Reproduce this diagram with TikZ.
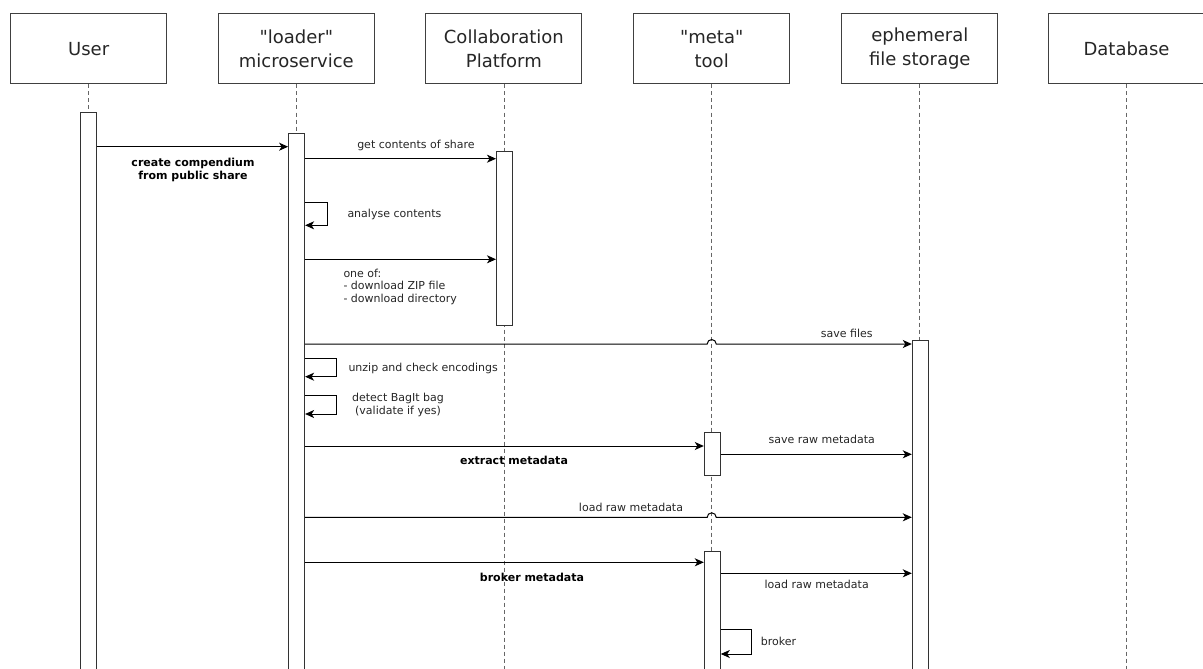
\documentclass[tikz,border=0pt]{standalone}
\usepackage{fontspec}
\setmainfont{DejaVu Sans}[Ligatures=TeXOff]
\usetikzlibrary{arrows.meta}
\begin{document}
\begin{tikzpicture}[x=1pt,y=-1pt,
  head/.style={draw=black!75, line width=1pt, minimum width=156pt, minimum height=70pt, inner sep=0pt, align=center, font=\fontsize{18}{24}\selectfont, text=black!85},
  bar/.style={draw=black!80, fill=white, line width=1pt, minimum width=16pt, inner sep=0pt, anchor=north},
  life/.style={draw=black!60, line width=0.8pt, dash pattern=on 4pt off 3pt},
  msg/.style={draw=black, line width=1pt, -{Stealth[length=9pt,width=8pt,inset=2.5pt]}},
  lbl/.style={inner sep=0pt, font=\fontsize{11}{12.5}\selectfont, text=black!85},
  blbl/.style={inner sep=0pt, font=\fontsize{11}{13}\selectfont\bfseries, text=black},
]
\useasboundingbox (0,0) rectangle (1203,669);
\fill[white] (0,0) rectangle (1203,669);

% participants
\node[head] (user)   at (88.7,49)   {User};
\node[head] (loader) at (296.3,49)  {"loader"\\microservice};
\node[head] (collab) at (503.9,49)  {Collaboration\\Platform};
\node[head] (meta)   at (711.7,49)  {"meta"\\tool};
\node[head] (eph)    at (919.8,49)  {ephemeral\\file storage};
\node[head] (db)     at (1126.5,49) {Database};

% lifelines
\foreach \n in {user,loader,collab,meta,eph,db}
  \draw[life] (\n.south) -- (\n.south |- 0,680);

% activation bars
\node[bar, minimum height=570pt] (ubar) at (88.7,112) {};
\node[bar, minimum height=550pt] (lbar) at (296.6,132.7) {};
\node[bar, minimum height=174pt] (cbar) at (504.5,151) {};
\node[bar, minimum height=43.3pt] (mbar1) at (712.3,432) {};
\node[bar, minimum height=130pt] (mbar2) at (712.3,550.7) {};
\node[bar, minimum height=342pt] (ebar) at (920.3,340) {};

% messages
\draw[msg] (ubar.east |- 0,146.7) -- (lbar.west |- 0,146.7);
\node[blbl, align=center] (l1) at (193,169.5) {create compendium\\from public share};

\draw[msg] (lbar.east |- 0,158.7) -- (cbar.west |- 0,158.7);
\node[lbl] (l2) at (416,145.7) {get contents of share};

\draw[msg] (lbar.east |- 0,202.3) -| (327.3,225.3) -- (lbar.east |- 0,225.3);
\node[lbl, anchor=west] (l3) at (347.3,214) {analyse contents};

\draw[msg] (lbar.east |- 0,259.3) -- (cbar.west |- 0,259.3);
\node[lbl, align=left, anchor=west] (l4) at (343.3,286.5) {one of:\\- download ZIP file\\- download directory};

\draw[msg] (lbar.east |- 0,344) -- (707.2,344) arc[start angle=180, end angle=0, radius=4.5pt] -- (ebar.west |- 0,344);
\node[lbl] (l5) at (846.8,333.3) {save files};

\draw[msg] (lbar.east |- 0,358.3) -| (336.7,376.7) -- (lbar.east |- 0,376.7);
\node[lbl, anchor=west] (l6) at (348.3,368.3) {unzip and check encodings};

\draw[msg] (lbar.east |- 0,395.7) -| (336.7,414) -- (lbar.east |- 0,414);
\node[lbl, align=center] (l7) at (398,405) {detect BagIt bag\\(validate if yes)};

\draw[msg] (lbar.east |- 0,446) -- (mbar1.west |- 0,446);
\node[blbl] (l8) at (514,460) {extract metadata};

\draw[msg] (mbar1.east |- 0,454.3) -- (ebar.west |- 0,454.3);
\node[lbl] (l9) at (821.7,439.3) {save raw metadata};

\draw[msg] (lbar.east |- 0,517.3) -- (707.2,517.3) arc[start angle=180, end angle=0, radius=4.5pt] -- (ebar.west |- 0,517.3);
\node[lbl] (l10) at (631,507.7) {load raw metadata};

\draw[msg] (lbar.east |- 0,562.3) -- (mbar2.west |- 0,562.3);
\node[blbl] (l11) at (532,577.7) {broker metadata};

\draw[msg] (mbar2.east |- 0,573.3) -- (ebar.west |- 0,573.3);
\node[lbl] (l12) at (816.7,584) {load raw metadata};

\draw[msg] (mbar2.east |- 0,629.3) -| (751.7,654) -- (mbar2.east |- 0,654);
\node[lbl, anchor=west] (l13) at (760.7,641.7) {broker};
\end{tikzpicture}
\end{document}
